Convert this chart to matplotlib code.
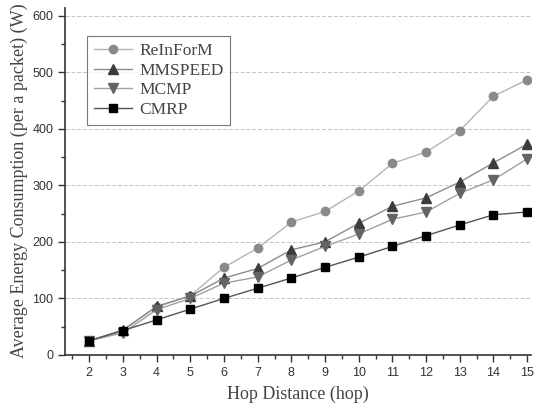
import numpy as np
import matplotlib
matplotlib.use("Agg")
import matplotlib.pyplot as plt
from matplotlib.ticker import MultipleLocator

hops = [2, 3, 4, 5, 6, 7, 8, 9, 10, 11, 12, 13, 14, 15]
reinform = [25, 43, 85, 105, 155, 189, 235, 254, 290, 339, 359, 397, 458, 487]
mmspeed = [25, 44, 86, 104, 136, 153, 186, 200, 233, 263, 278, 306, 340, 373]
mcmp = [25, 39, 80, 100, 127, 138, 168, 192, 214, 240, 253, 286, 310, 347]
cmrp = [25, 43, 62, 81, 100, 118, 136, 155, 173, 192, 211, 230, 248, 253]

fig = plt.figure(figsize=[5.42, 4.17], dpi=100)
ax = fig.add_axes([0.12, 0.149, 0.86, 0.833])

ax.plot(hops, reinform, "-o", color="#b5b5b5", mfc="#8a8a8a", mec="#8a8a8a", ms=6, lw=1, label="ReInForM")
ax.plot(hops, mmspeed, "-^", color="#8c8c8c", mfc="#3c3c3c", mec="#3c3c3c", ms=6.5, lw=1, label="MMSPEED")
ax.plot(hops, mcmp, "-v", color="#a0a0a0", mfc="#646464", mec="#646464", ms=6.5, lw=1, label="MCMP")
ax.plot(hops, cmrp, "-s", color="#555555", mfc="black", mec="black", ms=5.5, lw=1, label="CMRP")

ax.set_xlim(1.28, 15.12)
ax.set_ylim(0, 615)
ax.xaxis.set_major_locator(MultipleLocator(1))
ax.xaxis.set_minor_locator(MultipleLocator(0.5))
ax.yaxis.set_major_locator(MultipleLocator(100))
ax.yaxis.set_minor_locator(MultipleLocator(50))
ax.set_xticks(hops)

for s in ["top", "right"]:
    ax.spines[s].set_visible(False)
for s in ["left", "bottom"]:
    ax.spines[s].set_color("#333333")
    ax.spines[s].set_linewidth(1.2)

ax.tick_params(which="major", direction="out", length=5, width=1, color="#333333",
               labelsize=9, labelcolor="#333333")
ax.tick_params(which="minor", direction="out", length=3, width=1, color="#333333")
for lab in ax.get_xticklabels() + ax.get_yticklabels():
    lab.set_family("Liberation Sans")

ax.grid(True, axis="y", which="major", color="#c4c4c4", ls=(0, (4, 2)), lw=0.7)
ax.set_axisbelow(True)

ax.set_xlabel("Hop Distance (hop)", family="Liberation Serif", fontsize=13, color="#444444", labelpad=5)
ax.set_ylabel("Average Energy Consumption (per a packet) (W)", family="Liberation Serif",
              fontsize=13, color="#444444", labelpad=3)

leg = ax.legend(loc="upper left", bbox_to_anchor=(0.047, 0.918), fancybox=False, frameon=True,
                prop={"family": "Liberation Serif", "size": 12.5}, labelspacing=0.2,
                handlelength=2.2, borderpad=0.4, handletextpad=0.4, borderaxespad=0)
leg.get_frame().set_edgecolor("#555555")
leg.get_frame().set_linewidth(0.8)
for t in leg.get_texts():
    t.set_color("#444444")

fig.savefig("out.png", dpi=100)
